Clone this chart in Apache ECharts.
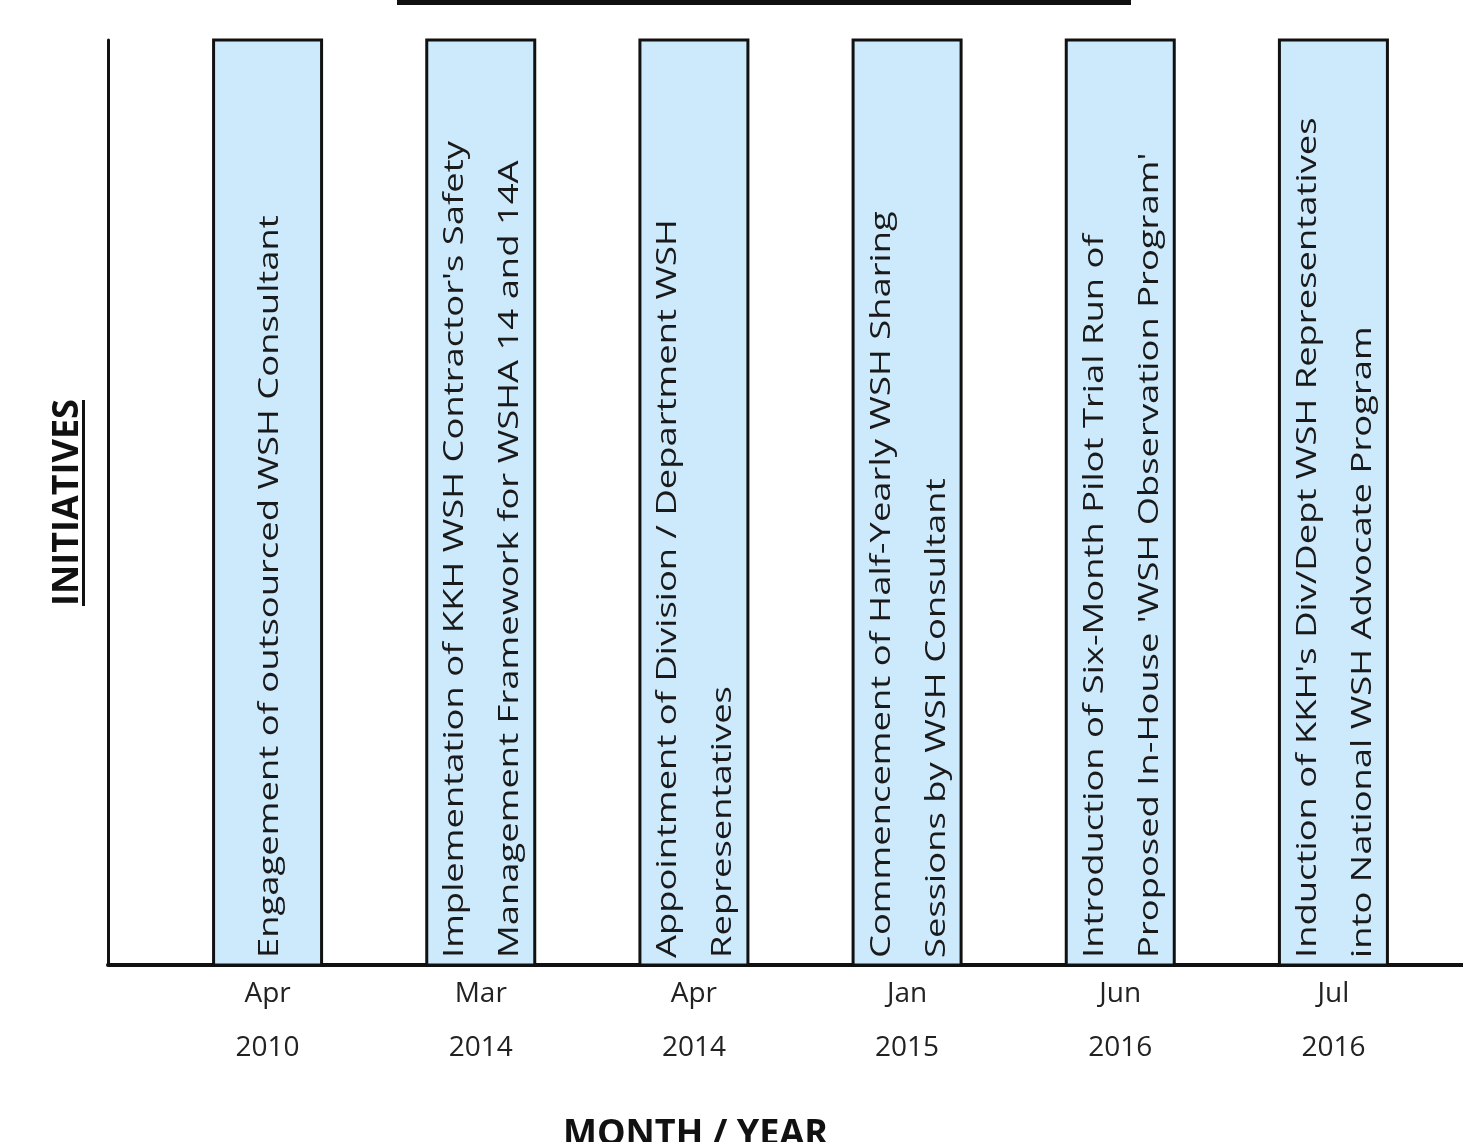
<!DOCTYPE html>
<html>
<head>
<meta charset="utf-8">
<script src="https://cdn.jsdelivr.net/npm/echarts@6/dist/echarts.min.js"></script>
<style>
html,body{margin:0;padding:0;background:#fff;}
#chart{width:1463px;height:1142px;}
</style>
</head>
<body>
<div id="chart"></div>
<script>
// ---- data ----
var months = ['Apr\n2010', 'Mar\n2014', 'Apr\n2014', 'Jan\n2015', 'Jun\n2016', 'Jul\n2016'];
var initiatives = [
  'Engagement of outsourced WSH Consultant',
  "Implementation of KKH WSH Contractor's Safety\nManagement Framework for WSHA 14 and 14A",
  'Appointment of Division / Department WSH\nRepresentatives',
  'Commencement of Half-Yearly WSH Sharing\nSessions by WSH Consultant',
  "Introduction of Six-Month Pilot Trial Run of\nProposed In-House 'WSH Observation Program'",
  "Induction of KKH's Div/Dept WSH Representatives\ninto National WSH Advocate Program"
];
var barValues = [1, 1, 1, 1, 1, 1];
var yAxisTitle = 'INITIATIVES';
var xAxisTitle = 'MONTH / YEAR';

var FONT = '"Open Sans", "Noto Sans", sans-serif';
var BAR_W = 108;
var TEXT_SIZE = 28;
var TEXT_STRETCH = 1.3;

var chart = echarts.init(document.getElementById('chart'), null, {renderer: 'canvas'});

var seriesData = barValues.map(function (v, i) { return [i, v]; });

chart.setOption({
  backgroundColor: '#ffffff',
  animation: false,
  grid: [
    {left: 108, right: 0, top: 40, bottom: 177, containLabel: false, outerBoundsMode: 'none'},
    {left: 161, right: 23, top: 40, bottom: 177, containLabel: false, outerBoundsMode: 'none'}
  ],
  xAxis: [
    {
      gridIndex: 0, type: 'value', min: 0, max: 1,
      axisLine: {show: true, lineStyle: {color: '#111', width: 4}},
      axisTick: {show: false}, axisLabel: {show: false}, splitLine: {show: false},
      name: xAxisTitle, nameLocation: 'middle', nameGap: 152,
      nameTextStyle: {fontFamily: FONT, fontWeight: 'bold', fontSize: 36, color: '#111', padding: [0, 180, 0, 0]}
    },
    {
      gridIndex: 1, type: 'category', data: months,
      axisLine: {show: false}, axisTick: {show: false}, splitLine: {show: false},
      axisLabel: {
        show: true, interval: 0, margin: 2,
        fontFamily: FONT, fontSize: 28, lineHeight: 54, color: '#222'
      }
    }
  ],
  yAxis: [
    {
      gridIndex: 0, type: 'value', min: 0, max: 1,
      axisLine: {show: true, lineStyle: {color: '#111', width: 3}},
      axisTick: {show: false}, axisLabel: {show: false}, splitLine: {show: false},
      name: yAxisTitle, nameLocation: 'middle', nameGap: 22, nameRotate: 90,
      nameTextStyle: {fontFamily: FONT, fontWeight: 'bold', fontSize: 36, color: '#111'}
    },
    {
      gridIndex: 1, type: 'value', min: 0, max: 1, show: false
    }
  ],
  series: [{
    type: 'custom',
    xAxisIndex: 1, yAxisIndex: 1,
    data: seriesData,
    encode: {x: 0, y: 1},
    renderItem: function (params, api) {
      var idx = api.value(0);
      var top = api.coord([idx, api.value(1)]);
      var bottom = api.coord([idx, 0]);
      return {
        type: 'group',
        children: [
          {
            type: 'rect',
            shape: {x: bottom[0] - BAR_W / 2, y: top[1], width: BAR_W, height: bottom[1] - top[1]},
            style: {fill: '#cde9fc', stroke: '#111', lineWidth: 3}
          },
          {
            type: 'text',
            x: bottom[0] + 2, y: bottom[1] - 7,
            rotation: Math.PI / 2,
            scaleX: TEXT_STRETCH, scaleY: 1,
            style: {
              text: initiatives[idx],
              fill: '#1a1a1a',
              fontFamily: FONT, fontSize: TEXT_SIZE,
              lineHeight: 55,
              align: 'left', verticalAlign: 'middle'
            }
          }
        ]
      };
    }
  }],
  graphic: [
    {type: 'rect', left: 397, top: 0, shape: {width: 734, height: 5}, style: {fill: '#111'}, silent: true},
    {type: 'rect', left: 82, top: 400, shape: {width: 3, height: 206}, style: {fill: '#111'}, silent: true}
  ]
});
</script>
</body>
</html>
